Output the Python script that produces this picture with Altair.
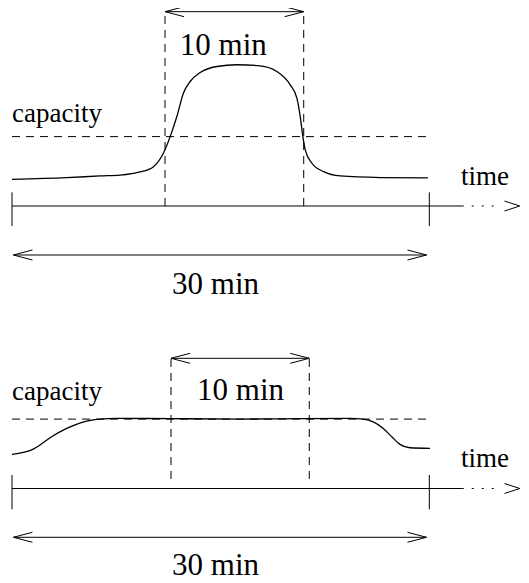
import altair as alt
import pandas as pd

# ---------------- data (minutes on x, load relative to capacity on y) ----------------
SPAN_MIN = 30.0
CAPACITY = 1.0

TOP_T = [0.0, 3.93, 6.33, 7.77, 8.72, 9.21, 10.17, 10.88, 11.37, 11.85, 12.32, 12.81,
         13.53, 14.73, 16.17, 17.84, 19.04, 20.0, 20.48, 20.72, 20.91, 21.08, 21.56,
         22.40, 23.60, 26.5, 29.9]
TOP_LOAD = [0.385, 0.408, 0.433, 0.445, 0.471, 0.49, 0.567, 0.760, 1.0, 1.289, 1.626,
            1.794, 1.924, 2.010, 2.035, 2.020, 1.938, 1.746, 1.554, 1.289, 1.0, 0.808,
            0.616, 0.495, 0.433, 0.41, 0.404]

BOT_T = [0.0, 1.53, 2.01, 2.73, 3.93, 5.37, 6.33, 7.53, 11.36, 16.4, 20.7, 24.3, 25.26,
         25.97, 26.69, 27.3, 27.89, 28.61, 30.05]
BOT_LOAD = [0.492, 0.568, 0.626, 0.731, 0.866, 0.971, 1.0, 1.01, 1.007, 1.0, 1.007, 1.01,
            1.0, 0.961, 0.866, 0.745, 0.636, 0.587, 0.578]

WINDOW_START = [11.0, 11.43]
WINDOW_END = [20.97, 21.37]

LABEL_CAPACITY = "capacity"
LABEL_TIME = "time"
LABEL_WINDOW = "10 min"
LABEL_SPAN = "30 min"

# ---------------- layout constants ----------------
W = 513
H = 567
PANEL_OFFSET = 4.0706          # vertical distance between the two panels, in load units
XS = alt.Scale(domain=[-0.2876, 36.59], nice=False, zero=False)
YS = alt.Scale(domain=[-5.317, 2.853], nice=False, zero=False)
FONT = "Liberation Serif"
INK = "black"
HEAD_LEN = 1.37                # arrow-head length, minutes
HEAD_HALF = 0.072              # arrow-head half height, load units
AXIS_SOLID_END = 32.33
AXIS_DOT_END = 35.1
AXIS_TIP = 36.5


def X(f="x"):
    return alt.X(f"{f}:Q", scale=XS, axis=None)


def Y(f="y"):
    return alt.Y(f"{f}:Q", scale=YS, axis=None)


def segs(rows, dash=None, width=1.0):
    df = pd.DataFrame(rows, columns=["x", "y", "x2", "y2"])
    kw = dict(color=INK, strokeWidth=width, strokeCap="butt")
    if dash:
        kw["strokeDash"] = dash
    return alt.Chart(df).mark_rule(**kw).encode(x=X(), y=Y(), x2="x2:Q", y2="y2:Q")


def arrow_heads(x, y, direction, length=HEAD_LEN):
    # direction -1: points left, +1: points right
    back = x - direction * length
    return [(x, y, back, y + HEAD_HALF), (x, y, back, y - HEAD_HALF)]


def label(x, y, text, size, align):
    df = pd.DataFrame({"x": [x], "y": [y], "t": [text]})
    return alt.Chart(df).mark_text(font=FONT, fontSize=size, align=align,
                                   baseline="alphabetic", color=INK).encode(
        x=X(), y=Y(), text="t:N")


def panel(off, curve_t, curve_load, w0, w1, w_arrow, w_low, w_label_x, w_label_y,
          cap_label_y, time_label_y, span_arrow_y, span_label_y, tick_lo, tick_hi):
    curve_df = pd.DataFrame({"x": curve_t, "y": [v - off for v in curve_load]})
    curve = alt.Chart(curve_df).mark_line(
        color=INK, strokeWidth=1.3, interpolate="monotone").encode(x=X(), y=Y())
    solid = [
        (w0, w_arrow - off, w1, w_arrow - off),
        *arrow_heads(w0, w_arrow - off, -1),
        *arrow_heads(w1, w_arrow - off, 1),
        (0, -off, AXIS_SOLID_END, -off),
        *arrow_heads(AXIS_TIP, -off, 1, 1.1),
        (0, tick_lo - off, 0, tick_hi - off),
        (SPAN_MIN, tick_lo - off, SPAN_MIN, tick_hi - off),
        (0.1, span_arrow_y - off, 29.8, span_arrow_y - off),
        *arrow_heads(0.1, span_arrow_y - off, -1),
        *arrow_heads(29.8, span_arrow_y - off, 1),
    ]
    dashed = [
        (0, CAPACITY - off, SPAN_MIN, CAPACITY - off),
        (w0, w_low - off, w0, w_arrow - off),
        (w1, w_low - off, w1, w_arrow - off),
    ]
    dotted = [(AXIS_SOLID_END, -off, AXIS_DOT_END, -off)]
    return [
        segs(dashed, dash=[8, 6]),
        segs(dotted, dash=[2, 8]),
        segs(solid),
        curve,
        label(0, cap_label_y - off, LABEL_CAPACITY, 27, "left"),
        label(32.28, time_label_y - off, LABEL_TIME, 27, "left"),
        label(w_label_x, w_label_y - off, LABEL_WINDOW, 31, "center"),
        label(14.63, span_label_y - off, LABEL_SPAN, 31, "center"),
    ]


layers = panel(0.0, TOP_T, TOP_LOAD, WINDOW_START[0], WINDOW_END[0], 2.80, 0.0, 15.19,
               2.176, 1.215, 0.303, -0.706, -1.27, -0.288, 0.197)
layers += panel(PANEL_OFFSET, BOT_T, BOT_LOAD, WINDOW_START[1], WINDOW_END[1], 1.876,
                0.137, 16.43, 1.275, 1.275, 0.31, -0.703, -1.24, -0.30, 0.195)

chart = alt.layer(*layers).properties(
    width=W, height=H, padding=0, autosize=alt.AutoSizeParams(type="none")
).configure_view(stroke=None)

chart.save("out.html", embed_options={"renderer": "svg", "actions": False})
